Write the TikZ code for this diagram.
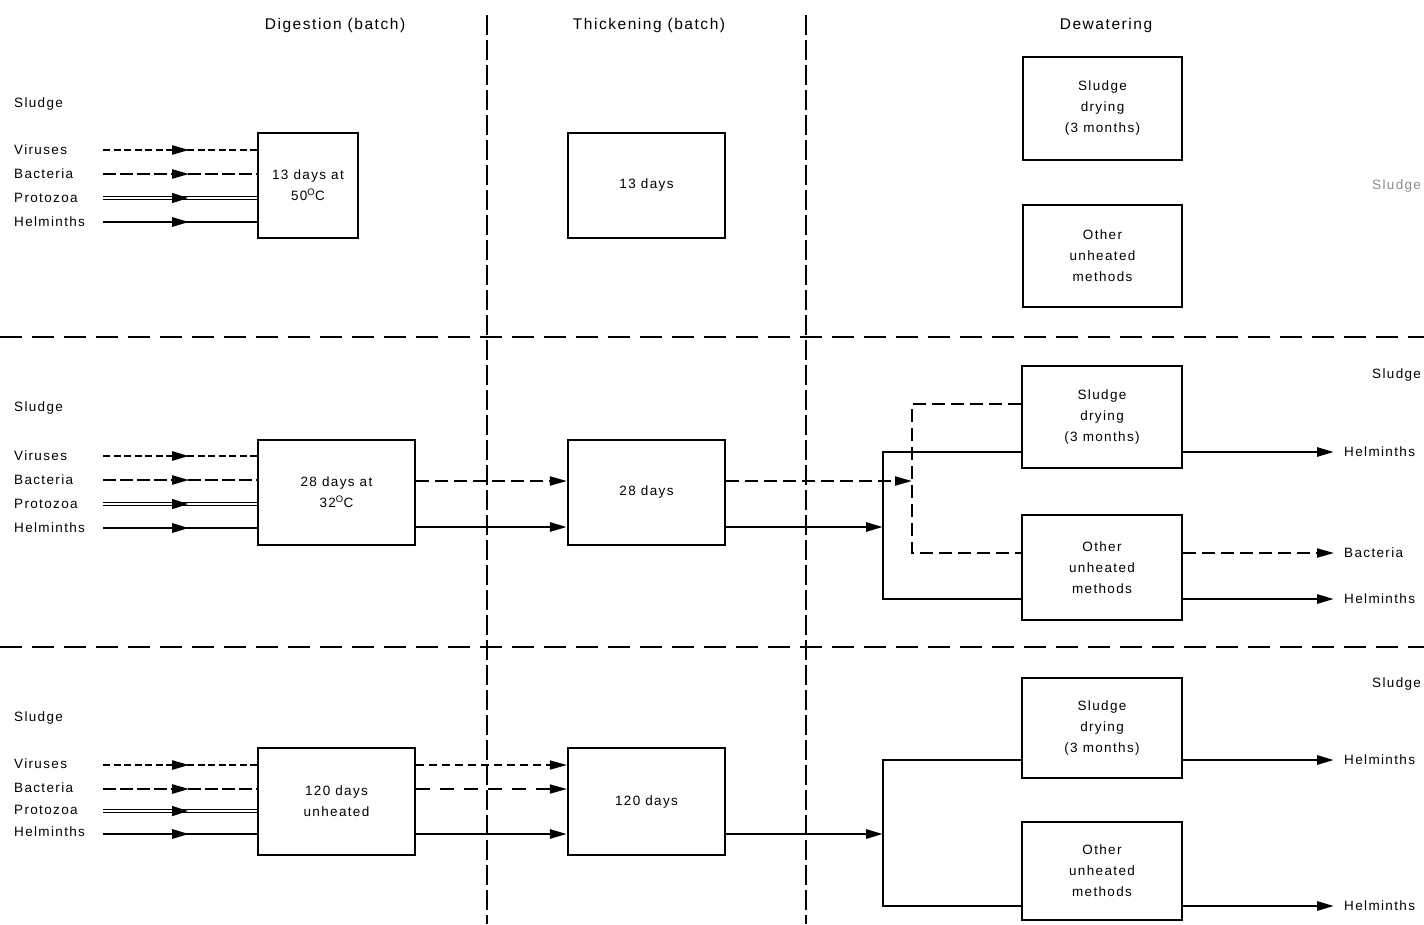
\documentclass[tikz,border=0pt]{standalone}
\usepackage{fontspec}
\setmainfont[LetterSpace=10]{Liberation Sans}
\usetikzlibrary{arrows.meta,decorations.markings}

\begin{document}
\begin{tikzpicture}[x=1pt, y=-1pt, font=\fontsize{13.5}{16}\selectfont,
    box/.style={draw, line width=2.2pt, minimum width=157pt, minimum height=105pt, inner sep=0pt, align=center, font=\fontsize{13.5}{21}\selectfont},
    lbl/.style={anchor=west, inner sep=0pt},
    outlbl/.style={anchor=west, inner ysep=0pt, inner xsep=10pt},
    head/.style={font=\fontsize{15.5}{18}\selectfont},
    tri/.tip={Triangle[length=17pt, width=9pt]},
    midarrow/.style={postaction={decorate}, decoration={markings, mark=at position #1 with {\arrow{tri}}}},
    vir/.style={line width=2.2pt, dash pattern=on 7pt off 3.5pt},
    bac/.style={line width=2.2pt, dash pattern=on 13pt off 4pt},
    pro/.style={line width=3.8pt, postaction={draw=white, line width=1.6pt}},
    hel/.style={line width=2.8pt},
    flowdash/.style={line width=2pt, dash pattern=on 13pt off 6pt},
    thindash/.style={line width=1.5pt, dash pattern=on 8pt off 5pt},
    sep/.style={line width=1.8pt, dash pattern=on 22pt off 10pt},
    col/.style={line width=1.4pt, dash pattern=on 20pt off 5pt}]

    \useasboundingbox (0,0) rectangle (1424,924);

    % Stage headings and separators
    \node[head] (hDig) at (335,25) {Digestion (batch)};
    \node[head] (hThk) at (649,25) {Thickening (batch)};
    \node[head] (hDew) at (1106,25) {Dewatering};

    \draw[col] (487,15) -- (487,924);
    \draw[col] (806,15) -- (806,924);
    \draw[sep] (0,337) -- (1424,337);
    \draw[sep] (0,647) -- (1424,647);

    % First process: 13 days at 50 C
    \node[lbl] (sl1) at (14,104) {Sludge};
    \node[lbl] (vir1) at (14,150) {Viruses};
    \node[lbl] (bac1) at (14,174) {Bacteria};
    \node[lbl] (pro1) at (14,198) {Protozoa};
    \node[lbl] (hel1) at (14,222) {Helminths};
    \coordinate (v1) at (103,150);
    \coordinate (b1) at (103,174);
    \coordinate (p1) at (103,198);
    \coordinate (h1) at (103,222);

    \node[box, minimum width=100pt] (D1) at (308,185.5) {13 days at\\50\textsuperscript{O}C};
    \node[box] (T1) at (646.5,185.5) {13 days};
    \node[box, minimum width=159pt, minimum height=103pt] (S1) at (1102.5,108.5) {Sludge\\drying\\(3 months)};
    \node[box, minimum width=159pt, minimum height=102pt] (O1) at (1102.5,256) {Other\\unheated\\methods};
    \node[lbl, text=black!45] (end1) at (1372,186) {Sludge};

    \draw[vir, midarrow=0.56] (v1) -- (v1 -| D1.west);
    \draw[bac, midarrow=0.56] (b1) -- (b1 -| D1.west);
    \draw[pro, midarrow=0.56] (p1) -- (p1 -| D1.west);
    \draw[hel, midarrow=0.56] (h1) -- (h1 -| D1.west);

    % Second process: 28 days at 32 C
    \node[lbl] (sl2) at (14,408) {Sludge};
    \node[lbl] (vir2) at (14,456) {Viruses};
    \node[lbl] (bac2) at (14,480) {Bacteria};
    \node[lbl] (pro2) at (14,504) {Protozoa};
    \node[lbl] (hel2) at (14,528) {Helminths};
    \coordinate (v2) at (103,456);
    \coordinate (b2) at (103,480);
    \coordinate (p2) at (103,504);
    \coordinate (h2) at (103,528);

    \node[box] (D2) at (336.5,492.5) {28 days at\\32\textsuperscript{O}C};
    \node[box] (T2) at (646.5,492.5) {28 days};
    \node[box, minimum width=160pt, minimum height=102pt] (S2) at (1102,417) {Sludge\\drying\\(3 months)};
    \node[box, minimum width=160pt, minimum height=105pt] (O2) at (1102,567.5) {Other\\unheated\\methods};
    \node[lbl] (end2) at (1372,375) {Sludge};
    \node[outlbl] (out2a) at (1334,452) {Helminths};
    \node[outlbl] (out2b) at (1334,553) {Bacteria};
    \node[outlbl] (out2c) at (1334,599) {Helminths};

    \draw[vir, midarrow=0.56] (v2) -- (v2 -| D2.west);
    \draw[bac, midarrow=0.56] (b2) -- (b2 -| D2.west);
    \draw[pro, midarrow=0.56] (p2) -- (p2 -| D2.west);
    \draw[hel, midarrow=0.56] (h2) -- (h2 -| D2.west);

    \coordinate (b2m) at (0,481);
    \coordinate (h2m) at (0,527);
    \draw[flowdash, -tri] (D2.east |- b2m) -- (T2.west |- b2m);
    \draw[hel, -tri] (D2.east |- h2m) -- (T2.west |- h2m);

    \coordinate (K2) at (912,481);
    \coordinate (J2) at (883,527);
    \coordinate (bs2) at (912,404);
    \coordinate (bo2) at (912,553);
    \coordinate (hs2) at (883,452);
    \coordinate (ho2) at (883,599);
    \draw[flowdash, -tri] (T2.east |- K2) -- (K2);
    \draw[hel, -tri] (T2.east |- J2) -- (J2);
    \draw[hel] (S2.west |- hs2) -- (hs2) -- (ho2) -- (O2.west |- ho2);
    \draw[flowdash] (S2.west |- bs2) -- (bs2) -- (bo2) -- (O2.west |- bo2);

    \draw[hel, -tri] (S2.east |- out2a) -- (out2a.west);
    \draw[flowdash, -tri] (O2.east |- out2b) -- (out2b.west);
    \draw[hel, -tri] (O2.east |- out2c) -- (out2c.west);

    % Third process: 120 days unheated
    \node[lbl] (sl3) at (14,718) {Sludge};
    \node[lbl] (vir3) at (14,764) {Viruses};
    \node[lbl] (bac3) at (14,788) {Bacteria};
    \node[lbl] (pro3) at (14,810) {Protozoa};
    \node[lbl] (hel3) at (14,832) {Helminths};
    \coordinate (v3) at (103,765);
    \coordinate (b3) at (103,789);
    \coordinate (p3) at (103,811);
    \coordinate (h3) at (103,834);

    \node[box, minimum height=107pt] (D3) at (336.5,801.5) {120 days\\unheated};
    \node[box, minimum height=107pt] (T3) at (646.5,801.5) {120 days};
    \node[box, minimum width=160pt, minimum height=100pt] (S3) at (1102,728) {Sludge\\drying\\(3 months)};
    \node[box, minimum width=160pt, minimum height=98pt] (O3) at (1102,871) {Other\\unheated\\methods};
    \node[lbl] (end3) at (1372,684) {Sludge};
    \node[outlbl] (out3a) at (1334,760) {Helminths};
    \node[outlbl] (out3b) at (1334,906) {Helminths};

    \draw[vir, midarrow=0.56] (v3) -- (v3 -| D3.west);
    \draw[bac, midarrow=0.56] (b3) -- (b3 -| D3.west);
    \draw[pro, midarrow=0.56] (p3) -- (p3 -| D3.west);
    \draw[hel, midarrow=0.56] (h3) -- (h3 -| D3.west);

    \draw[thindash, -tri] (D3.east |- v3) -- (T3.west |- v3);
    \draw[thindash, dash pattern=on 14pt off 10pt, -tri] (D3.east |- b3) -- (T3.west |- b3);
    \draw[hel, -tri] (D3.east |- h3) -- (T3.west |- h3);

    \coordinate (J3) at (883,834);
    \coordinate (hs3) at (883,760);
    \coordinate (ho3) at (883,906);
    \draw[hel, -tri] (T3.east |- J3) -- (J3);
    \draw[hel] (S3.west |- hs3) -- (hs3) -- (ho3) -- (O3.west |- ho3);

    \draw[hel, -tri] (S3.east |- out3a) -- (out3a.west);
    \draw[hel, -tri] (O3.east |- out3b) -- (out3b.west);

\end{tikzpicture}
\end{document}
